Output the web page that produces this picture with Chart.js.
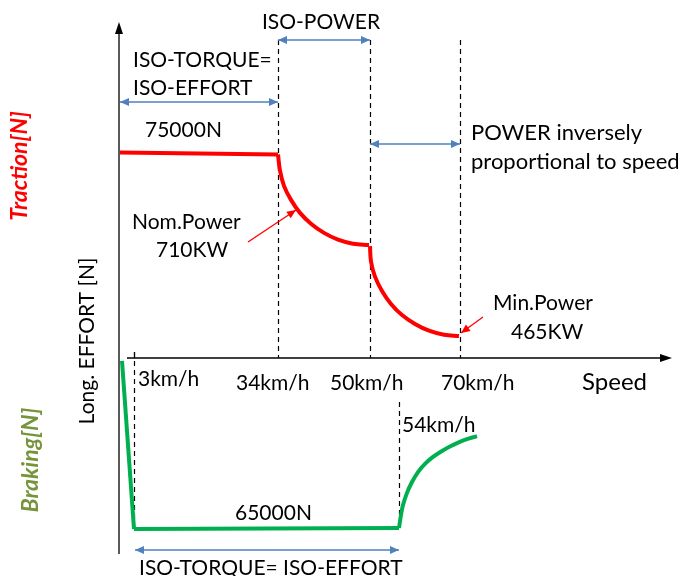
<!DOCTYPE html>
<html>
<head>
<meta charset="utf-8">
<script src="https://cdn.jsdelivr.net/npm/chart.js@4.4.1/dist/chart.umd.min.js"></script>
<style>
html,body{margin:0;padding:0;background:#fff}
#wrap{width:685px;height:576px;position:relative}
</style>
</head>
<body>
<div id="wrap"><canvas id="c"></canvas></div>
<script>
// schematic diagram: speed axis is not linear in km/h, so x is a position along the axis
const speedLabels = ['3km/h', '34km/h', '50km/h', '70km/h'];
const speedPos = [14, 158, 250, 340];
const brakeEndLabel = '54km/h';
const brakeEndPos = 279;

// traction effort [N]
const tractionFlat = [{x:0, y:76000}, {x:158, y:75300}];
const tractionIsoPower = [
  {x:158, y:75300}, {x:160, y:69300}, {x:164, y:63700}, {x:171, y:58500},
  {x:180, y:53700}, {x:191, y:49700}, {x:204, y:46300}, {x:218, y:43800},
  {x:233, y:42300}, {x:249, y:41800}
];
const tractionInverse = [
  {x:250, y:41400}, {x:251, y:35700}, {x:255, y:30100}, {x:262, y:24800},
  {x:271, y:20000}, {x:282, y:15900}, {x:295, y:12600}, {x:309, y:10100},
  {x:324, y:8600}, {x:339, y:8100}
];
// braking effort [N] (negative)
const brakingDrop = [{x:2, y:-1100}, {x:14, y:-63300}];
const brakingFlat = [{x:14, y:-63300}, {x:279, y:-62900}];
const brakingRise = [
  {x:279, y:-62900}, {x:281, y:-58100}, {x:283, y:-54400}, {x:287, y:-49900},
  {x:292, y:-45900}, {x:298, y:-42200}, {x:305, y:-39200}, {x:313, y:-36600},
  {x:322, y:-34400}, {x:332, y:-32400}, {x:344, y:-30400}, {x:357, y:-28900}
];

const RED = '#ff0000', GREEN = '#00b050', OLIVE = '#77933c', BLUE = '#4f81bd';
const FONT = 'Lato, "Liberation Sans", sans-serif';

function seg(data, color, curved){
  return {
    data, borderColor: color, borderWidth: 4, pointRadius: 0, showLine: true, fill: false,
    tension: curved ? 0.4 : 0,
    clip: false, borderCapStyle: 'butt', borderJoinStyle: 'round'
  };
}

function arrowHead(ctx, x1, y1, x2, y2, len, wid){
  const a = Math.atan2(y2 - y1, x2 - x1);
  ctx.beginPath();
  ctx.moveTo(x2, y2);
  ctx.lineTo(x2 - len*Math.cos(a) + wid*Math.sin(a), y2 - len*Math.sin(a) - wid*Math.cos(a));
  ctx.lineTo(x2 - len*Math.cos(a) - wid*Math.sin(a), y2 - len*Math.sin(a) + wid*Math.cos(a));
  ctx.closePath();
  ctx.fill();
}

function arrow(ctx, x1, y1, x2, y2, color, both, w){
  ctx.save();
  ctx.strokeStyle = color; ctx.fillStyle = color; ctx.lineWidth = w || 1.5;
  ctx.beginPath(); ctx.moveTo(x1, y1); ctx.lineTo(x2, y2); ctx.stroke();
  arrowHead(ctx, x1, y1, x2, y2, 9, 4);
  if(both) arrowHead(ctx, x2, y2, x1, y1, 9, 4);
  ctx.restore();
}

function txt(ctx, s, x, y, opt){
  opt = opt || {};
  ctx.save();
  ctx.font = (opt.style || '') + ' ' + (opt.size || 21) + 'px ' + FONT;
  ctx.fillStyle = opt.color || '#000';
  ctx.textBaseline = 'middle';
  ctx.textAlign = opt.align || 'left';
  if(opt.rot){
    ctx.translate(x, y); ctx.rotate(-Math.PI/2); ctx.textAlign = 'center';
    ctx.fillText(s, 0, 0);
  } else {
    ctx.fillText(s, x, y);
  }
  ctx.restore();
}

const axesPlugin = {
  id: 'axesGuides',
  beforeDatasetsDraw(chart){
    const {ctx, scales:{x, y}, chartArea:a} = chart;
    const y0 = y.getPixelForValue(0);
    ctx.save();
    ctx.strokeStyle = '#000'; ctx.fillStyle = '#000'; ctx.lineWidth = 1.3;
    // vertical axis
    ctx.beginPath(); ctx.moveTo(a.left - 1, a.bottom); ctx.lineTo(a.left - 1, a.top + 4); ctx.stroke();
    arrowHead(ctx, a.left - 1, a.bottom, a.left - 1, a.top, 12, 4);
    // speed axis
    ctx.beginPath(); ctx.moveTo(x.getPixelForValue(7), y0); ctx.lineTo(a.right - 4, y0); ctx.stroke();
    arrowHead(ctx, a.left, y0, a.right, y0, 12, 4);
    // guides
    ctx.lineWidth = 1.2; ctx.setLineDash([5, 4]);
    const vline = (pos, top, bot) => {
      const px = Math.round(x.getPixelForValue(pos)) + 0.5;
      ctx.beginPath(); ctx.moveTo(px, y.getPixelForValue(top)); ctx.lineTo(px, y.getPixelForValue(bot)); ctx.stroke();
    };
    vline(speedPos[1], 117700, 0);
    vline(speedPos[2], 117700, 0);
    vline(speedPos[3], 117700, 0);
    vline(speedPos[0], 2200, -63300);
    vline(brakeEndPos, -16300, -62900);
    ctx.setLineDash([]);
    // small tick at 3km/h
    const tx = Math.round(x.getPixelForValue(speedPos[0])) + 0.5;
    ctx.beginPath(); ctx.moveTo(tx, y0 - 6); ctx.lineTo(tx, y0); ctx.stroke();
    ctx.restore();
  },
  afterDatasetsDraw(chart){
    const {ctx, scales:{x}} = chart;
    const X = v => x.getPixelForValue(v);
    // span arrows
    arrow(ctx, X(speedPos[1]), 40, X(speedPos[2]), 40, BLUE, true);
    arrow(ctx, X(0), 102, X(speedPos[1]), 102, BLUE, true);
    arrow(ctx, X(speedPos[2]), 144, X(speedPos[3]), 144, BLUE, true);
    arrow(ctx, X(speedPos[0]) + 1, 550, X(brakeEndPos), 550, BLUE, true);
    // callouts
    arrow(ctx, 248, 242, 296, 210, RED, false, 1.3);
    arrow(ctx, 483, 317, 461, 333, RED, false, 1.3);

    txt(ctx, 'ISO-POWER', 321, 22, {align:'center'});
    txt(ctx, 'ISO-TORQUE=', 133, 60);
    txt(ctx, 'ISO-EFFORT', 133, 88);
    txt(ctx, '75000N', 145, 130);
    txt(ctx, 'POWER inversely', 471, 133, {size:22});
    txt(ctx, 'proportional to speed', 471, 162, {size:22});
    txt(ctx, 'Nom.Power', 132, 222);
    txt(ctx, '710KW', 156, 250);
    txt(ctx, 'Min.Power', 493, 303);
    txt(ctx, '465KW', 511, 332);
    txt(ctx, speedLabels[0], 138, 379);
    txt(ctx, speedLabels[1], 236, 383);
    txt(ctx, speedLabels[2], 330, 383);
    txt(ctx, speedLabels[3], 441, 383);
    txt(ctx, 'Speed', 582, 382, {size:24});
    txt(ctx, brakeEndLabel, 402, 425);
    txt(ctx, '65000N', 235, 513);
    txt(ctx, 'ISO-TORQUE= ISO-EFFORT', 139, 568);

    txt(ctx, 'Traction[N]', 20, 166, {rot:true, style:'italic bold', color:RED, size:23});
    txt(ctx, 'Long. EFFORT [N]', 87, 341, {rot:true, size:21});
    txt(ctx, 'Braking[N]', 31, 460, {rot:true, style:'italic bold', color:OLIVE, size:23});
  }
};

new Chart(document.getElementById('c'), {
  type: 'scatter',
  data: {
    datasets: [
      seg(tractionFlat, RED, false),
      seg(tractionIsoPower, RED, true),
      seg(tractionInverse, RED, true),
      seg(brakingDrop, GREEN, false),
      seg(brakingFlat, GREEN, false),
      seg(brakingRise, GREEN, true)
    ]
  },
  options: {
    responsive: true,
    maintainAspectRatio: false,
    animation: false,
    layout: { padding: { left: 120, right: 13, top: 22, bottom: 22 } },
    plugins: { legend: { display: false }, tooltip: { enabled: false } },
    scales: {
      x: { type: 'linear', min: 0, max: 552, display: false },
      y: { type: 'linear', min: -72520, max: 124320, display: false }
    }
  },
  plugins: [axesPlugin]
});
</script>
</body>
</html>
